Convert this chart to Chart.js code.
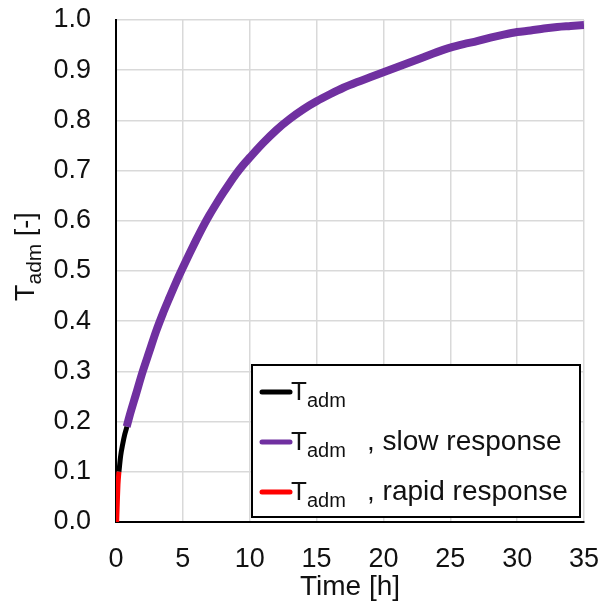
<!DOCTYPE html>
<html>
<head>
<meta charset="utf-8">
<script src="https://cdn.jsdelivr.net/npm/chart.js@4/dist/chart.umd.min.js"></script>
<style>
  html, body { margin: 0; padding: 0; background: #fff; }
  #wrap { width: 600px; height: 604px; }
</style>
</head>
<body>
<div id="wrap"><canvas id="tadmChart" width="600" height="604"></canvas></div>
<script>
// --- Data ---
const slowTime  = [0.8, 1, 1.5, 2, 2.5, 3, 3.5, 4, 4.5, 5, 5.5, 6, 6.5, 7, 7.5, 8, 8.5, 9, 9.5, 10,
                   11, 12, 13, 14, 15, 16, 17, 18, 19, 20, 21, 22, 23, 24, 25, 26, 27, 28, 29, 30,
                   31, 32, 33, 34, 35];
const slowValue = [0.19, 0.21, 0.255, 0.30, 0.34, 0.38, 0.415, 0.447, 0.478, 0.507, 0.535, 0.562, 0.588, 0.612, 0.634, 0.655, 0.675, 0.694, 0.711, 0.726,
                   0.755, 0.781, 0.803, 0.822, 0.838, 0.852, 0.865, 0.876, 0.886, 0.896, 0.906, 0.916, 0.926, 0.936, 0.945, 0.952, 0.958, 0.965, 0.971, 0.976,
                   0.979, 0.983, 0.986, 0.988, 0.99];

const mainTime  = [0.22, 0.35, 0.5, 0.65, 0.82];
const mainValue = [0.10, 0.132, 0.155, 0.174, 0.19];

const rapidTime  = [0.05, 0.1, 0.15, 0.22];
const rapidValue = [0.0, 0.04, 0.075, 0.10];

const xTicks = [0, 5, 10, 15, 20, 25, 30, 35];
const yTicks = [0, 0.1, 0.2, 0.3, 0.4, 0.5, 0.6, 0.7, 0.8, 0.9, 1.0];

const legendRows = [
    { color: '#000000', suffix: '' },
    { color: '#7030a0', suffix: ', slow response' },
    { color: '#ff0000', suffix: ', rapid response' }
];

const FONT = '"Liberation Sans", Arial, sans-serif';

function toPoints(xs, ys) {
    return xs.map((x, i) => ({ x: x, y: ys[i] }));
}

// draws "T" with "adm" subscript, returns width
function drawTadm(ctx, x, y, size) {
    ctx.font = size + 'px ' + FONT;
    ctx.fillText('T', x, y);
    let w = ctx.measureText('T').width;
    ctx.font = Math.round(size * 0.78) + 'px ' + FONT;
    ctx.fillText('adm', x + w, y + size * 0.27);
    w += ctx.measureText('adm').width;
    return w;
}

const annotations = {
    id: 'annotations',
    afterDatasetsDraw(chart) {
        const ctx = chart.ctx;
        const area = chart.chartArea;
        ctx.save();
        ctx.fillStyle = '#111';
        ctx.textBaseline = 'alphabetic';

        // y axis title, rotated, with subscript
        ctx.save();
        ctx.translate(34, 301);
        ctx.rotate(-Math.PI / 2);
        let w = drawTadm(ctx, 0, 0, 27);
        ctx.font = '27px ' + FONT;
        ctx.fillText(' [-]', w, 0);
        ctx.restore();

        // legend box
        const bx = 252, by = 365, bw = area.right - 4 - bx, bh = 152;
        ctx.fillStyle = '#fff';
        ctx.fillRect(bx, by, bw, bh);
        ctx.strokeStyle = '#000';
        ctx.lineWidth = 2;
        ctx.strokeRect(bx, by, bw, bh);

        legendRows.forEach((row, i) => {
            const base = by + 35 + i * 50;
            ctx.strokeStyle = row.color;
            ctx.lineWidth = 5;
            ctx.lineCap = 'round';
            ctx.beginPath();
            ctx.moveTo(262, base - 8);
            ctx.lineTo(290, base - 8);
            ctx.stroke();
            ctx.fillStyle = '#111';
            drawTadm(ctx, 291, base, 26);
            if (row.suffix) {
                ctx.font = '28px ' + FONT;
                ctx.fillText(row.suffix, 367, base);
            }
        });
        ctx.restore();
    }
};

const lineStyle = {
    showLine: true,
    pointRadius: 0,
    fill: false,
    cubicInterpolationMode: 'monotone'
};

new Chart(document.getElementById('tadmChart').getContext('2d'), {
    type: 'scatter',
    data: {
        datasets: [
            Object.assign({ label: 'rapid', data: toPoints(rapidTime, rapidValue), borderColor: '#ff0000', borderWidth: 5 }, lineStyle),
            Object.assign({ label: 'slow', data: toPoints(slowTime, slowValue), borderColor: '#7030a0', borderWidth: 8 }, lineStyle),
            Object.assign({ label: 'main', data: toPoints(mainTime, mainValue), borderColor: '#000000', borderWidth: 5 }, lineStyle)
        ]
    },
    options: {
        responsive: false,
        animation: false,
        layout: { padding: { top: 20, right: 16, left: 0, bottom: 0 } },
        plugins: {
            legend: { display: false },
            tooltip: { enabled: false }
        },
        scales: {
            x: {
                type: 'linear',
                min: 0,
                max: 35,
                afterBuildTicks: axis => { axis.ticks = xTicks.map(v => ({ value: v })); },
                grid: { color: '#d9d9d9', lineWidth: 1.5, drawTicks: false },
                border: { color: '#000', width: 2 },
                ticks: { color: '#111', font: { family: FONT, size: 27 }, padding: 21 },
                title: { display: true, text: 'Time [h]', color: '#111', font: { family: FONT, size: 28 }, padding: { top: -5, bottom: 0 } },
                afterFit: scale => {
                    scale.height = 82;
                    scale.paddingLeft = 0;
                    scale.paddingRight = 0;
                }
            },
            y: {
                type: 'linear',
                min: 0,
                max: 1,
                afterBuildTicks: axis => { axis.ticks = yTicks.map(v => ({ value: v })); },
                grid: { color: '#d9d9d9', lineWidth: 1.5, drawTicks: false },
                border: { color: '#000', width: 2 },
                ticks: { color: '#111', font: { family: FONT, size: 27 }, padding: 25, callback: v => v.toFixed(1) },
                afterFit: scale => {
                    scale.width = 116;
                    scale.paddingTop = 0;
                    scale.paddingBottom = 0;
                }
            }
        }
    },
    plugins: [annotations]
});
</script>
</body>
</html>
